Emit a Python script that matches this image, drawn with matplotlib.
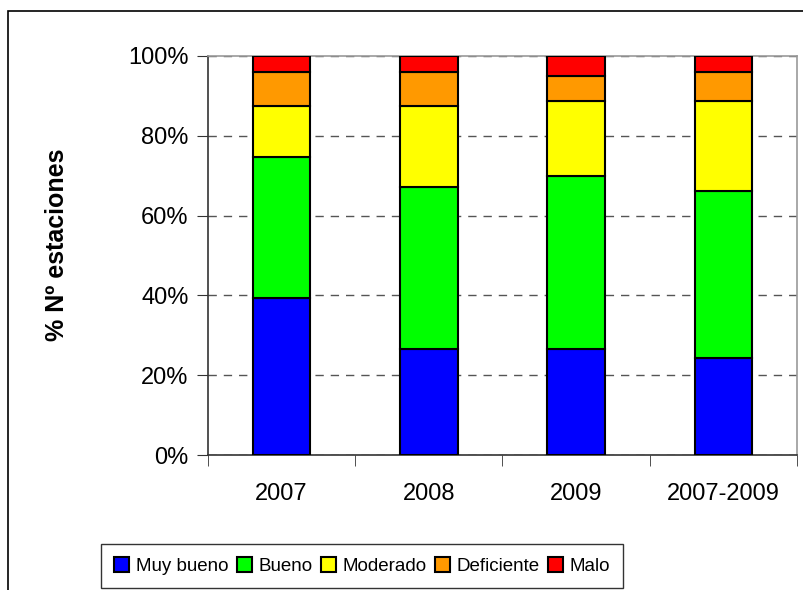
import matplotlib.pyplot as plt
from matplotlib.patches import Rectangle

plt.rcParams['font.family'] = ['Liberation Sans', 'DejaVu Sans']

periods = ["2007", "2008", "2009", "2007-2009"]
muy_bueno = [39.4, 26.5, 26.5, 24.3]
bueno = [35.4, 40.7, 43.4, 41.8]
moderado = [12.7, 20.3, 18.7, 22.5]
deficiente = [8.6, 8.6, 6.5, 7.5]
malo = [3.9, 3.9, 4.9, 3.9]

series = [("Muy bueno", muy_bueno, "#0000ff"),
          ("Bueno", bueno, "#00ff00"),
          ("Moderado", moderado, "#ffff00"),
          ("Deficiente", deficiente, "#ff9900"),
          ("Malo", malo, "#ff0000")]

fig = plt.figure(figsize=(8.04, 5.9), dpi=100)
ax = fig.add_axes([208 / 804, 1 - 455 / 590, (797 - 208) / 804, (455 - 56) / 590])

x = list(range(len(periods)))
bottom = [0] * len(periods)
for name, vals, color in series:
    ax.bar(x, vals, width=0.39, bottom=bottom, color=color, edgecolor="black",
           linewidth=1.5, label=name, zorder=3)
    bottom = [b + v for b, v in zip(bottom, vals)]

ax.set_xlim(-0.5, len(periods) - 0.5)
ax.set_ylim(0, 100)
ax.set_yticks([0, 20, 40, 60, 80, 100])
ax.set_yticklabels(["0%", "20%", "40%", "60%", "80%", "100%"], fontsize=17)
ax.set_xticks(x)
ax.set_xticklabels(periods, fontsize=17)
ax.tick_params(axis="x", length=0, pad=20)
ax.set_xticks([i - 0.5 for i in range(len(periods) + 1)], minor=True)
ax.tick_params(axis="x", which="minor", length=8, direction="out", color="#333333")
ax.tick_params(axis="y", length=8, direction="out", color="#333333", pad=6)

ax.yaxis.grid(True, linestyle=(0, (6, 5)), color="#555555", linewidth=1, zorder=0)
ax.spines["left"].set_color("#333333")
ax.spines["bottom"].set_color("#333333")
ax.spines["top"].set_color("#999999")
ax.spines["right"].set_color("#999999")
for s in ax.spines.values():
    s.set_linewidth(1.2)

ax.set_ylabel("% Nº estaciones", fontsize=18, fontweight="bold")
ax.yaxis.set_label_coords(-0.236, 0.528)

leg = fig.legend(loc="center", bbox_to_anchor=(362 / 804, 1 - 566 / 590), ncol=5,
                 fontsize=13.5, frameon=True, fancybox=False, edgecolor="black",
                 handlelength=0.8, handleheight=0.8, handletextpad=0.35,
                 columnspacing=0.45, borderpad=0.7, borderaxespad=0)
leg.get_frame().set_linewidth(1)

fig.patches.append(Rectangle((8 / 804, -0.1), 1.2, 1 - 11 / 590 + 0.1,
                             transform=fig.transFigure, fill=False,
                             edgecolor="black", linewidth=1.2))

fig.savefig("out.png", dpi=100)
